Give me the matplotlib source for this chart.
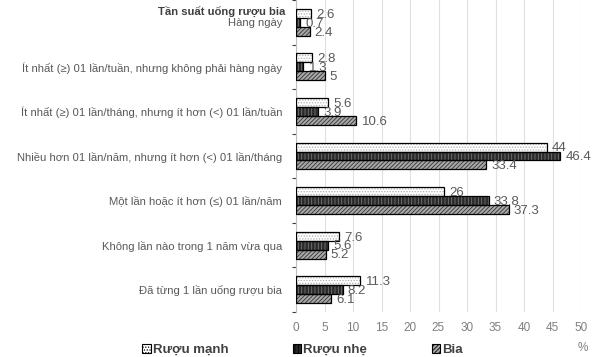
import matplotlib
matplotlib.use("Agg")
import matplotlib.pyplot as plt
import numpy as np

categories = [
    "Hàng ngày",
    "Ít nhất (≥) 01 lần/tuần, nhưng không phải hàng ngày",
    "Ít nhất (≥) 01 lần/tháng, nhưng ít hơn (<) 01 lần/tuần",
    "Nhiều hơn 01 lần/năm, nhưng ít hơn (<) 01 lần/tháng",
    "Một lần hoặc ít hơn (≤) 01 lần/năm",
    "Không lần nào trong 1 năm vừa qua",
    "Đã từng 1 lần uống rượu bia",
]
ruou_manh = [2.6, 2.8, 5.6, 44, 26, 7.6, 11.3]
ruou_nhe = [0.7, 1.3, 3.9, 46.4, 33.8, 5.6, 8.2]
bia = [2.4, 5, 10.6, 33.4, 37.3, 5.2, 6.1]
series_names = ["Rượu mạnh", "Rượu nhẹ", "Bia"]
axis_title = "Tần suất uống rượu bia"
x_ticks = [0, 5, 10, 15, 20, 25, 30, 35, 40, 45, 50]

plt.rcParams['font.family'] = ['Liberation Sans', 'DejaVu Sans']
plt.rcParams['hatch.linewidth'] = 0.6

fig = plt.figure(figsize=(6.07, 3.57), dpi=100)
ax = fig.add_axes([296/607, 1-312/357, (581-296)/607, 312/357])

n = len(categories)
y = np.arange(n)
h = 0.2
styles = [
    dict(face="#ffffff", hatch="......", hcol="#b0b0b0"),
    dict(face="#2a2a2a", hatch="|||||", hcol="#767676"),
    dict(face="#a8a8a8", hatch="////////", hcol="#333333"),
]
data = [ruou_manh, ruou_nhe, bia]
offsets = [-h, 0, h]
handles = []
for vals, st, off, name in zip(data, styles, offsets, series_names):
    ax.barh(y + off, vals, height=h, color=st["face"], edgecolor=st["hcol"],
            hatch=st["hatch"], linewidth=0, zorder=3)
    ax.barh(y + off, vals, height=h, fill=False, edgecolor="#000000",
            linewidth=0.9, zorder=4)
    for yi, v in zip(y + off, vals):
        ax.text(v + 0.9, yi + 0.03, f"{v:g}", va="center", ha="left", fontsize=9.5,
                color="#595959", zorder=5)
    handles.append(plt.Rectangle((0, 0), 1, 1, facecolor=st["face"],
                                 edgecolor="#000000", hatch=st["hatch"], linewidth=0.8))

ax.set_xlim(0, 50)
ax.set_ylim(n - 0.5, -0.5)
ax.set_xticks(x_ticks)
ax.set_xticklabels([str(t) for t in x_ticks], fontsize=8.5, color="#7f7f7f")
ax.set_yticks(y)
ax.set_yticklabels(categories, fontsize=8.1, color="#595959")
ax.set_yticks(np.arange(n + 1) - 0.5, minor=True)
ax.tick_params(axis='y', which='major', length=0, pad=10)
ax.tick_params(axis='y', which='minor', length=3, color="#404040", width=0.8)
ax.tick_params(axis='x', length=0, pad=7)
ax.grid(axis='x', color="#e0e0e0", linewidth=0.8, zorder=0)
for s in ["top", "right", "bottom"]:
    ax.spines[s].set_visible(False)
ax.spines["left"].set_color("#bfbfbf")
ax.spines["left"].set_linewidth(0.8)

fig.text(285/607, 1-11/357, axis_title, fontsize=8.1, fontweight="bold",
         color="#404040", ha="right", va="center")

leg = fig.legend(handles, series_names, loc="center left", ncol=3,
                 bbox_to_anchor=(142/607, 1-350/357), frameon=False,
                 fontsize=9.5, handlelength=0.65, handleheight=0.65,
                 columnspacing=4.9, handletextpad=0.15, borderaxespad=0,
                 borderpad=0)
for t in leg.get_texts():
    t.set_color("#404040")
    t.set_fontweight("bold")
fig.text(583/607, 1-348/357, "%", fontsize=8.5, color="#7f7f7f", ha="center", va="center")

fig.savefig("out.png", dpi=100)
